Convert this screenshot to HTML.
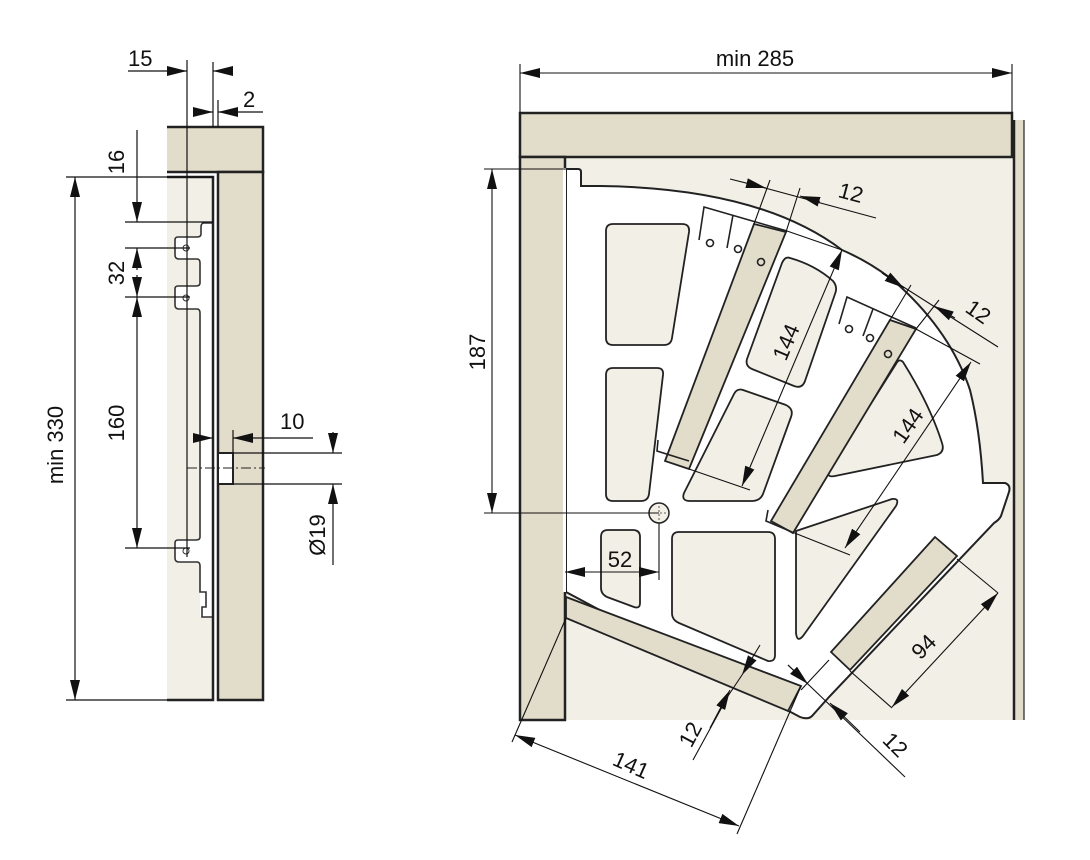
<!DOCTYPE html>
<html><head><meta charset="utf-8"><style>
html,body{margin:0;padding:0;background:#fff;}
svg{display:block;}
text{font-family:"Liberation Sans",Arial,sans-serif;font-size:22px;fill:#111;}
</style></head><body>
<svg width="1090" height="860" viewBox="0 0 1090 860" xmlns="http://www.w3.org/2000/svg">
<defs>
<marker id="a" viewBox="0 0 20 10" refX="20" refY="5" markerWidth="20" markerHeight="10" markerUnits="userSpaceOnUse" orient="auto-start-reverse"><path d="M0,0 L20,5 L0,10 Z" fill="#111"/></marker>
</defs>

<!-- ========== LEFT VIEW ========== -->
<rect x="167" y="177" width="46" height="523" fill="#f1efe6"/>
<rect x="167" y="127" width="96" height="45" fill="#e2dccb"/>
<path d="M167,127 H263 V172 H167" fill="none" stroke="#222" stroke-width="2.5"/>
<rect x="218" y="172" width="45" height="528" fill="#e2dccb" stroke="#222" stroke-width="2.5"/>
<rect x="200" y="223" width="13" height="394" fill="#fff"/>
<!-- bracket -->
<path d="M213,223 H204 Q201,223 201,227 V234 Q201,237 197,237 H178 Q175,237 175,240 V255 Q175,259 179,259 H197 Q200,259 200,263 V283 Q200,286 196,286 H178 Q175,286 175,289 V305 Q175,309 179,309 H197 Q200,309 200,313 V537 Q200,540 196,540 H178 Q175,540 175,543 V558 Q175,562 179,562 H197 Q200,562 200,566 V592 H206 V607 H202 V617 H213" fill="#fff" stroke="#333" stroke-width="1.6"/>
<path d="M167,177 H213 V700 H167" fill="none" stroke="#222" stroke-width="2.5"/>
<g fill="none" stroke="#333" stroke-width="1"><circle cx="186" cy="248" r="3"/><circle cx="186" cy="298" r="3"/><circle cx="186" cy="551" r="3"/></g>
<!-- hole -->
<rect x="218" y="453" width="15" height="31" fill="#fff" stroke="#222" stroke-width="2"/>
<line x1="187" y1="468" x2="265" y2="468" stroke="#222" stroke-width="1" stroke-dasharray="10,3,2,3"/>
<!-- dim lines -->
<g stroke="#111" stroke-width="1.2" fill="none">
<line x1="187" y1="60" x2="187" y2="557"/>
<line x1="213" y1="62" x2="213" y2="127"/>
<line x1="218" y1="100" x2="218" y2="127"/>
<line x1="128" y1="71" x2="187" y2="71" marker-end="url(#a)"/>
<line x1="233" y1="71" x2="213" y2="71" marker-end="url(#a)"/>
<line x1="193" y1="112" x2="213" y2="112" marker-end="url(#a)"/>
<line x1="263" y1="112" x2="218" y2="112" marker-end="url(#a)"/>
<line x1="66" y1="177" x2="213" y2="177"/>
<line x1="66" y1="700" x2="167" y2="700"/>
<line x1="75" y1="177" x2="75" y2="700" marker-start="url(#a)" marker-end="url(#a)"/>
<line x1="125" y1="222" x2="213" y2="222"/>
<line x1="125" y1="248" x2="190" y2="248"/>
<line x1="125" y1="297" x2="190" y2="297"/>
<line x1="125" y1="548" x2="190" y2="548"/>
<line x1="137" y1="130" x2="137" y2="222" marker-end="url(#a)"/>
<line x1="137" y1="270" x2="137" y2="248" marker-end="url(#a)"/>
<line x1="137" y1="275" x2="137" y2="297" marker-end="url(#a)"/>
<line x1="137" y1="297" x2="137" y2="548" marker-start="url(#a)" marker-end="url(#a)"/>
<line x1="197" y1="438" x2="213" y2="438" marker-end="url(#a)"/>
<line x1="313" y1="438" x2="233" y2="438" marker-end="url(#a)"/>
<line x1="233" y1="430" x2="233" y2="453"/>
<line x1="233" y1="453" x2="342" y2="453"/>
<line x1="233" y1="484" x2="342" y2="484"/>
<line x1="333" y1="432" x2="333" y2="453" marker-end="url(#a)"/>
<line x1="333" y1="565" x2="333" y2="484" marker-end="url(#a)"/>
</g>
<text x="128" y="66">15</text>
<text x="243" y="107">2</text>
<text x="280" y="429">10</text>
<text transform="translate(124,162) rotate(-90)" text-anchor="middle">16</text>
<text transform="translate(124,273) rotate(-90)" text-anchor="middle">32</text>
<text transform="translate(124,423) rotate(-90)" text-anchor="middle">160</text>
<text transform="translate(63,445) rotate(-90)" text-anchor="middle">min 330</text>
<text transform="translate(325,535) rotate(-90)" text-anchor="middle">Ø19</text>

<!-- ========== RIGHT VIEW ========== -->
<rect x="565" y="157" width="448" height="563" fill="#f1efe6"/>
<rect x="520" y="113" width="492" height="44" fill="#e2dccb" stroke="#222" stroke-width="2.5"/>
<rect x="520" y="157" width="45" height="563" fill="#e2dccb" stroke="#222" stroke-width="2.5"/>
<rect x="1014" y="120" width="10" height="600" fill="#e2dccb"/>
<line x1="1014" y1="120" x2="1014" y2="720" stroke="#222" stroke-width="2.5"/>
<line x1="1024" y1="120" x2="1024" y2="720" stroke="#222" stroke-width="1.2"/>

<!-- plate -->
<path d="M566,169 H578 Q581,169 581,172 V186 H600 Q760,188 842,250 Q870,262 894,281 Q950,330 970,390 Q980,430 983,483 H1005 Q1011,485 1009,492 L1001,516 Q999,520 994,523 L829,697 L812,716 Q808,720 800,717 L566,592 Z" fill="#fff" stroke="#222" stroke-width="2"/>
<rect x="563" y="168" width="3" height="424" fill="#fff"/>

<g fill="#f1efe6" stroke="#222" stroke-width="1.8" stroke-linejoin="round">
<path d="M613,224 H682 Q690,224 689,232 L672,338 Q671,345 664,345 H613 Q606,345 606,338 V231 Q606,224 613,224 Z"/>
<path d="M613,368 H657 Q664,368 663,375 L649,494 Q648,501 641,501 H613 Q606,501 606,494 V375 Q606,368 613,368 Z"/>
<path d="M790,258 Q815,265 833,281 Q838,287 835,294 L805,381 Q802,389 794,386 L752,369 Q745,366 747,359 L782,263 Q785,256 790,258 Z"/>
<path d="M743,390 L786,405 Q794,409 791,417 L763,494 Q760,501 752,501 H690 Q681,501 684,493 L734,394 Q737,388 743,390 Z"/>
<path d="M903,362 Q930,405 942,443 Q945,452 937,455 L835,476 Q826,478 829,470 L896,364 Q899,358 903,362 Z"/>
<path d="M796,531 L892,499 Q900,498 896,506 L803,636 Q797,643 796,633 Z"/>
<path d="M608,530 H633 Q640,530 640,537 V603 Q640,609 634,607 L607,597 Q601,594 601,588 V537 Q601,530 608,530 Z"/>
<path d="M679,532 H768 Q775,532 775,539 V655 Q775,662 768,661 L679,623 Q672,620 672,613 V539 Q672,532 679,532 Z"/>
</g>
<circle cx="659" cy="513" r="10" fill="#f1efe6" stroke="#222" stroke-width="1.5"/>
<path d="M652,513 H666 M659,506 V520" stroke="#333" stroke-width="0.8" stroke-dasharray="2,2"/>

<!-- strips -->
<g fill="#e2dccb" stroke="#222" stroke-width="1.8">
<polygon points="754,224 786,232 689,469 665,461"/>
<polygon points="890,320 916,329 793,533 771,521"/>
<polygon points="566,597 801,686 788,711 566,618"/>
<polygon points="935,537 957,556 850,670 831,652"/>
</g>
<g stroke="#222" stroke-width="1.6" fill="none">
<path d="M699,240 L704,207 L787,231"/>
<line x1="733" y1="215" x2="727" y2="248"/>
<path d="M839,324 L847,297 L916,328"/>
<line x1="873" y1="309" x2="863" y2="336"/>
<path d="M658,440 L657,451 L689,461"/>
<path d="M768,510 L766,521 L792,532"/>
<circle cx="710" cy="243" r="3.5"/><circle cx="738" cy="249" r="3.5"/><circle cx="761" cy="262" r="3.5"/>
<circle cx="849" cy="329" r="3.5"/><circle cx="870" cy="338" r="3.5"/><circle cx="888" cy="354" r="3.5"/>
</g>

<!-- right dims -->
<g stroke="#111" stroke-width="1.1" fill="none">
<line x1="520" y1="64" x2="520" y2="113"/>
<line x1="1012" y1="64" x2="1012" y2="113"/>
<line x1="520" y1="73" x2="1012" y2="73" marker-start="url(#a)" marker-end="url(#a)"/>
<line x1="484" y1="169" x2="566" y2="169"/>
<line x1="484" y1="513" x2="659" y2="513"/>
<line x1="492" y1="169" x2="492" y2="513" marker-start="url(#a)" marker-end="url(#a)"/>
<line x1="659" y1="523" x2="659" y2="580"/>
<line x1="565" y1="572" x2="659" y2="572" marker-start="url(#a)" marker-end="url(#a)"/>
<line x1="770" y1="180" x2="754" y2="224"/>
<line x1="800" y1="188" x2="786" y2="232"/>
<line x1="750" y1="184" x2="876" y2="218"/>
<line x1="730" y1="179" x2="766" y2="188" marker-end="url(#a)"/>
<line x1="820" y1="202" x2="800" y2="196" marker-end="url(#a)"/>
<line x1="787" y1="231" x2="842" y2="250"/>
<line x1="842" y1="250" x2="742" y2="486" marker-start="url(#a)" marker-end="url(#a)"/>
<line x1="689" y1="469" x2="750" y2="490"/>
<line x1="911" y1="285" x2="890" y2="320"/>
<line x1="939" y1="300" x2="916" y2="329"/>
<line x1="894" y1="281" x2="998" y2="347"/>
<line x1="882" y1="273" x2="904" y2="288" marker-end="url(#a)"/>
<line x1="955" y1="318" x2="934" y2="306" marker-end="url(#a)"/>
<line x1="916" y1="329" x2="980" y2="364"/>
<line x1="971" y1="362" x2="845" y2="548" marker-start="url(#a)" marker-end="url(#a)"/>
<line x1="792" y1="532" x2="850" y2="555"/>
<line x1="957" y1="559" x2="998" y2="593"/>
<line x1="850" y1="671" x2="892" y2="708"/>
<line x1="998" y1="593" x2="892" y2="707" marker-start="url(#a)" marker-end="url(#a)"/>
<line x1="566" y1="618" x2="512" y2="742"/>
<line x1="801" y1="686" x2="737" y2="834"/>
<line x1="515" y1="735" x2="739" y2="826" marker-start="url(#a)" marker-end="url(#a)"/>
<line x1="693" y1="760" x2="728" y2="696" />
<line x1="710" y1="728" x2="730" y2="690" marker-end="url(#a)"/>
<line x1="760" y1="645" x2="742" y2="675" marker-end="url(#a)"/>
<line x1="742" y1="675" x2="728" y2="696"/>
<line x1="788" y1="665" x2="905" y2="777"/>
<line x1="788" y1="665" x2="808" y2="684" marker-end="url(#a)" />
<line x1="860" y1="732" x2="830" y2="703" marker-end="url(#a)"/>
<line x1="801" y1="690" x2="829" y2="660"/>
</g>
<text x="755" y="66" text-anchor="middle">min 285</text>
<text transform="translate(485,352) rotate(-90)" text-anchor="middle">187</text>
<text x="620" y="567" text-anchor="middle">52</text>
<text transform="translate(849,200) rotate(15)" text-anchor="middle">12</text>
<text transform="translate(974,318) rotate(35)" text-anchor="middle">12</text>
<text transform="translate(793,345) rotate(-67)" text-anchor="middle">144</text>
<text transform="translate(914,430) rotate(-55)" text-anchor="middle">144</text>
<text transform="translate(929,652) rotate(-45)" text-anchor="middle">94</text>
<text transform="translate(628,772) rotate(24)" text-anchor="middle">141</text>
<text transform="translate(697,738) rotate(-62)" text-anchor="middle">12</text>
<text transform="translate(890,750) rotate(45)" text-anchor="middle">12</text>
</svg>
</body></html>
